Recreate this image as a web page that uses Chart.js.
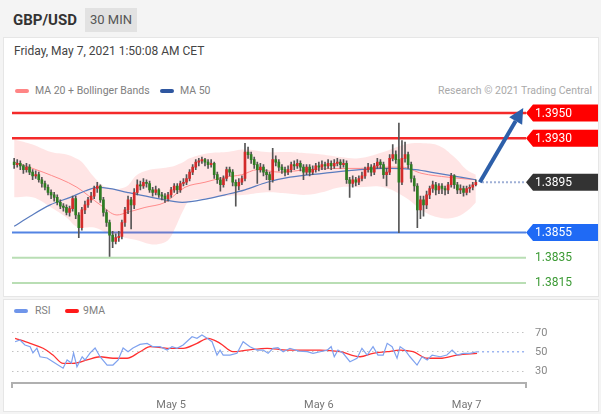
<!DOCTYPE html>
<html>
<head>
<meta charset="utf-8">
<script src="https://cdn.jsdelivr.net/npm/chart.js@4.4.0/dist/chart.umd.min.js"></script>
<style>
  body { margin: 0; width: 601px; height: 414px; background: #f4f4f4; position: relative; overflow: hidden;
         font-family: Roboto, "Liberation Sans", Arial, sans-serif; }
  .abs { position: absolute; white-space: nowrap; }
  #panelTop { left: 3px; top: 37px; width: 594px; height: 258px; background: #fff; border: 1px solid #e6e6e6; }
  #panelRsi { left: 3px; top: 299px; width: 594px; height: 111px; background: #fff; border: 1px solid #e6e6e6; }
  #pair { left: 13px; top: 11px; font-size: 15px; font-weight: bold; color: #333; }
  #tf { left: 85px; top: 8px; width: 52px; height: 24px; background: #e2e2e2; color: #555; font-size: 13px; line-height: 24px; text-align: center; }
  #date { left: 14px; top: 44px; font-size: 12px; color: #444; }
  .leg { font-size: 10.5px; color: #808080; }
  .sw { position: absolute; width: 14px; height: 4px; border-radius: 2px; }
  #credit { right: 9px; top: 84px; font-size: 10.5px; color: #aaa; }
  canvas { position: absolute; left: 0; }
</style>
</head>
<body>
<div id="panelTop" class="abs"></div>
<div id="panelRsi" class="abs"></div>
<div id="pair" class="abs">GBP/USD</div>
<div id="tf" class="abs">30 MIN</div>
<div id="date" class="abs">Friday, May 7, 2021 1:50:08 AM CET</div>

<div class="sw" style="left:15px;top:89px;background:#ff8585"></div>
<div class="abs leg" style="left:35px;top:84px">MA 20 + Bollinger Bands</div>
<div class="sw" style="left:160px;top:89px;background:#2f57a0"></div>
<div class="abs leg" style="left:180px;top:84px">MA 50</div>
<div id="credit" class="abs">Research © 2021 Trading Central</div>

<div class="sw" style="left:14px;top:309px;background:#6f95ea"></div>
<div class="abs leg" style="left:35px;top:304px">RSI</div>
<div class="sw" style="left:65px;top:309px;background:#ff1a1a"></div>
<div class="abs leg" style="left:83px;top:304px">9MA</div>

<canvas id="priceChart" width="601" height="195" style="top:100px"></canvas>
<canvas id="rsiChart" width="601" height="114" style="top:300px"></canvas>

<script>
// 30 min candles, index 1..151 (open = previous close)
const firstOpen = 1.3911;
const closes = [
  1.3909, 1.3910, 1.3908, 1.3905, 1.3907, 1.3903, 1.3900, 1.3901, 1.3897, 1.3894,
  1.3891, 1.3887, 1.3885, 1.3883, 1.3879, 1.3876, 1.3875, 1.3871, 1.3874, 1.3882,
  1.3869, 1.3859, 1.3873, 1.3877, 1.3881, 1.3884, 1.3890, 1.3892, 1.3881, 1.3871,
  1.3863, 1.3853, 1.3848, 1.3851, 1.3852, 1.3863, 1.3873, 1.3881, 1.3877, 1.3887,
  1.3893, 1.3892, 1.3895, 1.3894, 1.3889, 1.3887, 1.3889, 1.3885, 1.3884, 1.3882,
  1.3885, 1.3889, 1.3892, 1.3889, 1.3894, 1.3895, 1.3898, 1.3903, 1.3907, 1.3911,
  1.3912, 1.3913, 1.3911, 1.3909, 1.3910, 1.3901, 1.3897, 1.3893, 1.3898, 1.3905,
  1.3903, 1.3895, 1.3892, 1.3895, 1.3898, 1.3919, 1.3917, 1.3913, 1.3909, 1.3905,
  1.3907, 1.3903, 1.3901, 1.3897, 1.3913, 1.3911, 1.3907, 1.3905, 1.3903, 1.3905,
  1.3909, 1.3908, 1.3910, 1.3907, 1.3903, 1.3907, 1.3903, 1.3905, 1.3908, 1.3907,
  1.3909, 1.3908, 1.3910, 1.3908, 1.3910, 1.3911, 1.3909, 1.3910, 1.3897, 1.3894,
  1.3897, 1.3895, 1.3898, 1.3900, 1.3905, 1.3907, 1.3903, 1.3908, 1.3911, 1.3909,
  1.3901, 1.3903, 1.3914, 1.3917, 1.3913, 1.3895, 1.3914, 1.3917, 1.3909, 1.3898,
  1.3892, 1.3873, 1.3881, 1.3877, 1.3885, 1.3890, 1.3893, 1.3889, 1.3892, 1.3890,
  1.3889, 1.3893, 1.3900, 1.3893, 1.3889, 1.3890, 1.3887, 1.3890, 1.3891, 1.3893, 1.3895
];
const highs = [
  1.3914, 1.3913, 1.3912, 1.3909, 1.3910, 1.3909, 1.3905, 1.3904, 1.3903, 1.3899,
  1.3896, 1.3893, 1.3889, 1.3887, 1.3885, 1.3881, 1.3878, 1.3877, 1.3876, 1.3884,
  1.3884, 1.3871, 1.3875, 1.3880, 1.3883, 1.3887, 1.3892, 1.3895, 1.3893, 1.3883,
  1.3873, 1.3865, 1.3856, 1.3854, 1.3856, 1.3865, 1.3875, 1.3884, 1.3883, 1.3890,
  1.3897, 1.3896, 1.3898, 1.3897, 1.3896, 1.3891, 1.3892, 1.3890, 1.3887, 1.3886,
  1.3887, 1.3891, 1.3894, 1.3894, 1.3896, 1.3898, 1.3901, 1.3905, 1.3909, 1.3913,
  1.3914, 1.3915, 1.3914, 1.3913, 1.3913, 1.3911, 1.3903, 1.3899, 1.3900, 1.3907,
  1.3907, 1.3905, 1.3897, 1.3898, 1.3900, 1.3926, 1.3923, 1.3919, 1.3915, 1.3911,
  1.3910, 1.3909, 1.3905, 1.3903, 1.3922, 1.3916, 1.3913, 1.3909, 1.3907, 1.3908,
  1.3911, 1.3912, 1.3913, 1.3912, 1.3909, 1.3909, 1.3909, 1.3908, 1.3910, 1.3911,
  1.3912, 1.3911, 1.3913, 1.3912, 1.3913, 1.3914, 1.3913, 1.3913, 1.3912, 1.3899,
  1.3900, 1.3899, 1.3900, 1.3903, 1.3907, 1.3910, 1.3909, 1.3910, 1.3914, 1.3913,
  1.3911, 1.3906, 1.3917, 1.3925, 1.3920, 1.3942, 1.3928, 1.3927, 1.3919, 1.3911,
  1.3900, 1.3894, 1.3884, 1.3884, 1.3888, 1.3892, 1.3896, 1.3895, 1.3894, 1.3894,
  1.3892, 1.3895, 1.3902, 1.3901, 1.3895, 1.3893, 1.3892, 1.3892, 1.3893, 1.3895, 1.3897
];
const lows = [
  1.3906, 1.3907, 1.3905, 1.3902, 1.3903, 1.3901, 1.3897, 1.3898, 1.3895, 1.3891,
  1.3889, 1.3885, 1.3882, 1.3880, 1.3877, 1.3874, 1.3872, 1.3869, 1.3868, 1.3872,
  1.3866, 1.3851, 1.3857, 1.3870, 1.3875, 1.3879, 1.3882, 1.3887, 1.3879, 1.3868,
  1.3860, 1.3836, 1.3843, 1.3846, 1.3848, 1.3850, 1.3860, 1.3870, 1.3858, 1.3874,
  1.3885, 1.3889, 1.3890, 1.3891, 1.3887, 1.3884, 1.3885, 1.3883, 1.3881, 1.3879,
  1.3880, 1.3883, 1.3887, 1.3886, 1.3887, 1.3892, 1.3893, 1.3896, 1.3901, 1.3905,
  1.3908, 1.3910, 1.3908, 1.3906, 1.3907, 1.3898, 1.3894, 1.3888, 1.3891, 1.3896,
  1.3900, 1.3892, 1.3876, 1.3889, 1.3893, 1.3896, 1.3914, 1.3910, 1.3906, 1.3894,
  1.3903, 1.3900, 1.3897, 1.3889, 1.3895, 1.3908, 1.3904, 1.3902, 1.3900, 1.3901,
  1.3903, 1.3905, 1.3906, 1.3904, 1.3897, 1.3901, 1.3900, 1.3901, 1.3903, 1.3904,
  1.3905, 1.3905, 1.3906, 1.3905, 1.3906, 1.3908, 1.3906, 1.3907, 1.3894, 1.3883,
  1.3891, 1.3892, 1.3893, 1.3896, 1.3898, 1.3903, 1.3900, 1.3901, 1.3906, 1.3906,
  1.3898, 1.3892, 1.3901, 1.3912, 1.3910, 1.3855, 1.3893, 1.3911, 1.3906, 1.3895,
  1.3888, 1.3859, 1.3866, 1.3868, 1.3874, 1.3882, 1.3887, 1.3885, 1.3886, 1.3886,
  1.3885, 1.3886, 1.3891, 1.3890, 1.3886, 1.3886, 1.3884, 1.3885, 1.3887, 1.3889, 1.3892
];

// indicators, read at candle positions
const bandX     = [1, 7, 13, 18, 21, 23, 27, 31, 37, 41, 45, 48, 51, 53, 56, 58, 64, 70, 76, 83, 90, 96, 101, 107, 113, 121, 128, 134, 139, 144, 148, 151];
const bandUpper = [1.3929, 1.3925, 1.3919, 1.3917, 1.3914, 1.3911, 1.3899, 1.3891, 1.3891, 1.3901, 1.3905, 1.3906, 1.3907, 1.3908, 1.3911, 1.3914,
                   1.3918, 1.3919, 1.3921, 1.3919, 1.3919, 1.3918, 1.3917, 1.3915, 1.3914, 1.3919, 1.3925, 1.3926, 1.3924, 1.3915, 1.3905, 1.3901];
const bandLower = [1.3883, 1.3883, 1.3875, 1.3867, 1.3860, 1.3859, 1.3859, 1.3855, 1.3851, 1.3849, 1.3846, 1.3846, 1.3849, 1.3857, 1.3873, 1.3880,
                   1.3882, 1.3884, 1.3885, 1.3887, 1.3886, 1.3885, 1.3887, 1.3891, 1.3891, 1.3891, 1.3883, 1.3872, 1.3867, 1.3867, 1.3872, 1.3879];
const ma20X = [1, 10.4, 21.4, 29, 34.4, 37.7, 43.5, 50, 56.5, 63, 69.5, 75, 80, 87.4, 96.2, 106.9, 113.4, 122.5, 127, 133.5, 142, 151];
const ma20Y = [1.3911, 1.3903, 1.3891, 1.3877, 1.3869, 1.3871, 1.3875, 1.3879, 1.3891, 1.3895, 1.3899, 1.3901, 1.3905, 1.3903, 1.3905,
               1.3906, 1.3906, 1.3907, 1.3907, 1.3902, 1.3899, 1.3897];
const ma50X = [1, 6.2, 12.7, 19.2, 24, 28, 32.2, 37.7, 47.8, 55.6, 64, 69.5, 76, 83.2, 90.6, 101.4, 113.4, 122.5, 131.3, 138.7, 151];
const ma50Y = [1.3860, 1.3868, 1.3877, 1.3883, 1.3888, 1.3891, 1.3890, 1.3887, 1.3882, 1.3879, 1.3882, 1.3885, 1.3889, 1.3895, 1.3899,
               1.3902, 1.3905, 1.3906, 1.3905, 1.3902, 1.3897];

// key levels and projection
const levelValues = [1.3950, 1.3930, 1.3855, 1.3835, 1.3815];
const levelKinds  = ['resistance', 'resistance', 'support', 'target', 'target'];
const arrowX = [152.3, 166.4];
const arrowY = [1.3895, 1.3954];

// RSI panel
const rsiX = [1.3, 2.9, 4.5, 6.2, 7.1, 8.4, 9.4, 11.7, 13.6, 16.9, 18.2, 19.6, 20.3, 21.4, 23.1, 24, 25.7, 27.3, 28.9, 31.2,
              33.1, 34.8, 36.4, 38, 39.6, 41.9, 44.2, 46.1, 48.4, 50.7, 52.3, 53.9, 55.9, 58.8, 60.4, 62, 63.7, 65.3, 66.9, 67.9,
              68.9, 71.1, 73.4, 75.4, 77.6, 79.9, 81.9, 83.5, 85.1, 86.7, 88.4, 90.6, 93.5, 96.2, 98.1, 100.4, 102.7, 104, 105, 106.2,
              107.9, 110.1, 112.4, 114, 115.7, 117.6, 119.2, 120.9, 122.2, 123.8, 125.4, 126.4, 128, 129.6, 131.9, 133.5, 135.2, 136.8, 139.4, 141.6,
              143.3, 144.9, 146.9, 149.1, 151.4];
const rsiY = [60.8, 62.6, 57.4, 55.6, 49, 54, 45, 43.7, 39.8, 33, 41.6, 38.4, 49, 34.5, 45, 41.6, 49, 54.2, 45, 36.3,
              36.3, 41.6, 54.2, 50.3, 54.2, 58, 59, 55.6, 55.6, 52, 55.6, 53.9, 57.4, 66.1, 64.4, 67.9, 64.4, 60.8, 46.8, 52,
              46.8, 46.8, 48.6, 60.8, 55.6, 52, 52, 48.6, 53.9, 54.5, 50.3, 53.9, 51, 50.3, 48.6, 50.3, 52, 55.6, 45, 52,
              48.6, 39.8, 43.4, 53.9, 46.8, 55.6, 46.8, 46.8, 59.1, 55.6, 43.4, 55.6, 52, 45, 36.3, 45, 41.6, 46.8, 45, 46.8,
              52, 46.8, 48.6, 48.6, 50.3];
const rsiMaX = [1.3, 6.2, 10.4, 13.6, 16.9, 20.1, 24.7, 28.9, 33.1, 37.7, 41.9, 45.2, 50.7, 55.9, 60.4, 64, 67.9, 72.1, 76.7, 83.2,
                89.7, 93.9, 100.4, 106.9, 113.4, 117.6, 122.2, 126.4, 130.6, 135.2, 139.4, 144.9, 151.4];
const rsiMaY = [64.4, 59.1, 53.9, 46.8, 38.1, 38.1, 41.6, 45, 43.4, 43.4, 50.3, 55.6, 53.9, 53.9, 59.1, 64.4, 59.1, 50.3, 52, 53.9,
                52, 52, 52, 50.3, 45, 48.6, 50.3, 52, 50.3, 43.4, 43.4, 46.8, 48.6];
const rsiTicks = [30, 50, 70];

const dayTicks = [52, 100, 148];
const dayLabels = ['May 5', 'May 6', 'May 7'];
const X_MIN = 0.3, X_MAX = 167.3;

// ---- styles ----
const UP = '#d32a2a', DOWN = '#2f7d22', WICK = '#555';
const levelStyle = {
  resistance: { line: '#f42a2a', width: 2.5, box: '#ff0000', text: '#fff' },
  support:    { line: '#5384e3', width: 2,   box: '#1f6af5', text: '#fff' },
  target:     { line: '#b9deb4', width: 2,   box: null,      text: '#3b9a34' }
};

const pts = (xs, ys) => xs.map((x, k) => ({ x: x, y: ys[k] }));
const opens = closes.map((c, i) => i === 0 ? firstOpen : closes[i - 1]);

function tag(ctx, x, y, fill, text, color) {
  const h = 17, tip = 7, right = 598;
  if (fill) {
    ctx.fillStyle = fill;
    ctx.beginPath();
    ctx.moveTo(x, y);
    ctx.lineTo(x + tip, y - h / 2);
    ctx.lineTo(right, y - h / 2);
    ctx.lineTo(right, y + h / 2);
    ctx.lineTo(x + tip, y + h / 2);
    ctx.closePath();
    ctx.fill();
  }
  ctx.fillStyle = color;
  ctx.font = '12px Roboto, "Liberation Sans", sans-serif';
  ctx.textBaseline = 'middle';
  ctx.textAlign = 'left';
  ctx.fillText(text, x + 9, y + 0.5);
}

const levelsPlugin = {
  id: 'levels',
  beforeDatasetsDraw(chart) {
    const { ctx, chartArea, scales: { y } } = chart;
    ctx.save();
    levelValues.forEach((v, k) => {
      const st = levelStyle[levelKinds[k]];
      const py = y.getPixelForValue(v);
      ctx.strokeStyle = st.line;
      ctx.lineWidth = st.width;
      ctx.beginPath();
      ctx.moveTo(chartArea.left, py);
      ctx.lineTo(chartArea.right, py);
      ctx.stroke();
    });
    ctx.restore();
  },
  afterDatasetsDraw(chart) {
    const { ctx, chartArea, scales: { x, y } } = chart;
    ctx.save();
    // last price guide
    const last = closes[closes.length - 1];
    const ly = y.getPixelForValue(last);
    ctx.strokeStyle = '#9fb0d6';
    ctx.lineWidth = 2;
    ctx.setLineDash([2, 2]);
    ctx.beginPath();
    ctx.moveTo(x.getPixelForValue(closes.length + 2), ly);
    ctx.lineTo(chartArea.right, ly);
    ctx.stroke();
    ctx.setLineDash([]);
    // projection arrow
    const x0 = x.getPixelForValue(arrowX[0]), y0 = y.getPixelForValue(arrowY[0]);
    const x1 = x.getPixelForValue(arrowX[1]), y1 = y.getPixelForValue(arrowY[1]);
    const ang = Math.atan2(y1 - y0, x1 - x0);
    const head = 15, half = 7.5;
    const bx = x1 - head * Math.cos(ang), by = y1 - head * Math.sin(ang);
    ctx.strokeStyle = '#2d5fa9';
    ctx.fillStyle = '#2d5fa9';
    ctx.lineWidth = 4;
    ctx.beginPath();
    ctx.moveTo(x0, y0);
    ctx.lineTo(bx, by);
    ctx.stroke();
    ctx.beginPath();
    ctx.moveTo(x1, y1);
    ctx.lineTo(bx + half * Math.sin(ang), by - half * Math.cos(ang));
    ctx.lineTo(bx - half * Math.sin(ang), by + half * Math.cos(ang));
    ctx.closePath();
    ctx.fill();
    // right hand tags
    levelValues.forEach((v, k) => {
      const st = levelStyle[levelKinds[k]];
      tag(ctx, chartArea.right, y.getPixelForValue(v), st.box, v.toFixed(4), st.text);
    });
    tag(ctx, chartArea.right, ly, '#333333', last.toFixed(4), '#fff');
    ctx.restore();
  }
};

new Chart(document.getElementById('priceChart'), {
  type: 'bar',
  data: {
    datasets: [
      { type: 'line', data: pts(bandX, bandUpper), borderWidth: 0, borderColor: 'rgba(0,0,0,0)', pointRadius: 0,
        fill: '+1', backgroundColor: 'rgba(255,80,80,0.15)', tension: 0.4, order: 9 },
      { type: 'line', data: pts(bandX, bandLower), borderWidth: 0, borderColor: 'rgba(0,0,0,0)', pointRadius: 0,
        fill: false, tension: 0.4, order: 8 },
      { type: 'line', data: pts(ma20X, ma20Y), borderColor: '#ff8a8a', borderWidth: 1, pointRadius: 0,
        fill: false, cubicInterpolationMode: 'monotone', order: 7 },
      { type: 'line', data: pts(ma50X, ma50Y), borderColor: '#5a7cbf', borderWidth: 1.2, pointRadius: 0,
        fill: false, cubicInterpolationMode: 'monotone', order: 6 },
      { data: closes.map((c, i) => ({ x: i + 1, y: [lows[i], highs[i]] })), backgroundColor: WICK,
        barThickness: 1, grouped: false, borderWidth: 0, order: 2 },
      { data: closes.map((c, i) => ({ x: i + 1, y: [opens[i], c] })),
        backgroundColor: closes.map((c, i) => c >= opens[i] ? UP : DOWN),
        barThickness: 2, grouped: false, borderWidth: 0, minBarLength: 1, order: 1 }
    ]
  },
  options: {
    responsive: false,
    animation: false,
    devicePixelRatio: 1,
    layout: { padding: { left: 12, right: 75, top: 5.45, bottom: 5.74 } },
    plugins: { legend: { display: false }, tooltip: { enabled: false } },
    scales: {
      x: { type: 'linear', min: X_MIN, max: X_MAX, offset: false, display: false },
      y: { type: 'linear', min: 1.3810, max: 1.3956, display: false }
    }
  },
  plugins: [levelsPlugin]
});

const axisEnds = {
  id: 'axisEnds',
  afterDraw(chart) {
    const { ctx, chartArea } = chart;
    ctx.save();
    ctx.strokeStyle = '#b0b0b0';
    ctx.lineWidth = 2;
    [chartArea.left, chartArea.right].forEach(px => {
      ctx.beginPath();
      ctx.moveTo(px, chartArea.bottom - 1);
      ctx.lineTo(px, chartArea.bottom + 5);
      ctx.stroke();
    });
    ctx.restore();
  }
};

const lastRsi = rsiY[rsiY.length - 1];
new Chart(document.getElementById('rsiChart'), {
  type: 'line',
  data: {
    datasets: [
      { data: pts(rsiX, rsiY), borderColor: '#7fa2ef', borderWidth: 1.2, pointRadius: 0, tension: 0 },
      { data: [{ x: rsiX[rsiX.length - 1], y: lastRsi }, { x: X_MAX, y: lastRsi }], borderColor: '#9db6f2',
        borderWidth: 1.5, borderDash: [2, 3], pointRadius: 0 },
      { data: pts(rsiMaX, rsiMaY), borderColor: '#ff3030', borderWidth: 1.3, pointRadius: 0, cubicInterpolationMode: 'monotone' }
    ]
  },
  options: {
    responsive: false,
    animation: false,
    devicePixelRatio: 1,
    layout: { padding: { left: 12, right: 0, top: 19, bottom: 0 } },
    plugins: { legend: { display: false }, tooltip: { enabled: false } },
    scales: {
      x: {
        type: 'linear', min: X_MIN, max: X_MAX, offset: false,
        grid: { display: false },
        border: { display: true, color: '#b0b0b0', width: 2 },
        afterBuildTicks: s => { s.ticks = dayTicks.map(v => ({ value: v })); },
        afterFit: s => { s.height = 31; },
        ticks: {
          autoSkip: false, maxRotation: 0, padding: 8, color: '#777',
          font: { size: 11, family: 'Roboto' },
          callback: v => dayLabels[dayTicks.indexOf(v)] || ''
        }
      },
      y: {
        position: 'right', min: 17.4, max: 84.7,
        afterBuildTicks: s => { s.ticks = rsiTicks.map(v => ({ value: v })); },
        afterFit: s => { s.width = 75; },
        grid: { color: '#c2c2c2', drawTicks: false, lineWidth: 1 },
        border: { display: false, dash: [1.5, 3.5] },
        ticks: { color: '#888', padding: 9, font: { size: 11, family: 'Roboto' } }
      }
    }
  },
  plugins: [axisEnds]
});
</script>
</body>
</html>
